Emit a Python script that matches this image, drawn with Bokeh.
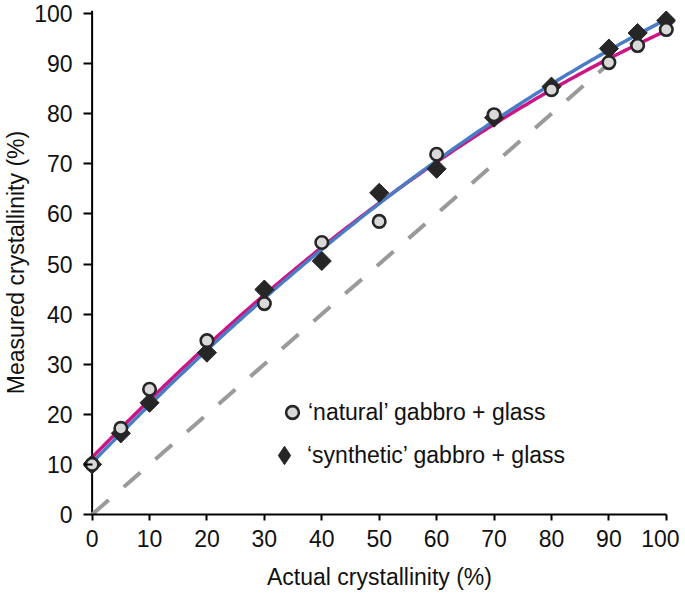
import numpy as np
from bokeh.plotting import figure
from bokeh.models import Range1d, SingleIntervalTicker, Legend, LegendItem, Span
from bokeh.embed import file_html
from bokeh.resources import INLINE

# ---- data ----
actual = [0, 5, 10, 20, 30, 40, 50, 60, 70, 80, 90, 95, 100]
natural = [10.0, 17.2, 25.0, 34.7, 42.1, 54.3, 58.5, 71.9, 79.8, 84.8, 90.2, 93.6, 96.8]
synthetic = [10.0, 16.2, 22.3, 32.3, 44.9, 50.6, 64.2, 69.0, 79.2, 85.4, 93.0, 96.1, 98.6]
one_to_one = [0, 100]
tick_step = 10

# trend lines (2nd-order polynomial fits of each series)
xa = np.array(actual, dtype=float)
xf = np.linspace(0, 100, 201)
fit_nat = np.polyval(np.polyfit(xa, natural, 2), xf)
fit_syn = np.polyval(np.polyfit(xa, synthetic, 2), xf)

FONT = "Liberation Sans"
TXT = "#111111"

p = figure(
    output_backend="svg", toolbar_location=None,
    x_range=Range1d(-1.5, 101.6), y_range=Range1d(0, 100.6),
    frame_width=592, frame_height=504,
    min_border_left=82, min_border_right=4, min_border_top=10, min_border_bottom=81,
)
p.outline_line_color = None
p.xgrid.visible = False
p.ygrid.visible = False
p.background_fill_color = "white"
p.border_fill_color = "white"

# vertical axis line at x = 0 (the frame starts slightly left so markers are not cut)
p.add_layout(Span(location=0, dimension="height", line_color="black",
                  line_width=2, level="underlay"))

# 1:1 reference line
p.line(one_to_one, one_to_one, line_color="#9a9a9a", line_width=4, line_dash="22 20")

# fits
p.line(xf, fit_nat, line_color="#cc1484", line_width=3.5)
p.line(xf, fit_syn, line_color="#4a7cc6", line_width=3.5)

# points (diamond glyph underneath is the legend swatch; it is hidden by the rotated squares)
r_syn_leg = p.scatter(actual, synthetic, marker="diamond", size=18,
                      fill_color="#262626", line_color="#262626", line_width=1)
r_syn = p.scatter(actual, synthetic, marker="square", angle=np.pi / 4, size=13.5,
                  fill_color="#262626", line_color="#262626", line_width=1)
r_nat = p.scatter(actual, natural, marker="circle", size=12.5,
                  fill_color="#d9d9d9", line_color="#262626", line_width=2.6)


def make_legend(label, renderer, loc, glyph):
    lg = Legend(items=[LegendItem(label=label, renderers=[renderer])], location=loc)
    lg.padding = 0
    lg.margin = 0
    lg.spacing = 0
    lg.glyph_width = glyph
    lg.glyph_height = glyph
    lg.label_height = glyph
    lg.label_standoff = 0
    lg.border_line_color = None
    lg.background_fill_alpha = 0
    lg.label_text_font = FONT
    lg.label_text_font_size = "23px"
    lg.label_text_color = TXT
    return lg


p.add_layout(make_legend("\u2018natural\u2019 gabbro + glass", r_nat, (193, 86), 32), "center")
p.add_layout(make_legend("\u2018synthetic\u2019 gabbro + glass", r_syn_leg, (178, 36), 46), "center")

for ax in (p.xaxis[0], p.yaxis[0]):
    ax.ticker = SingleIntervalTicker(interval=tick_step)
    ax.bounds = (0, 100)
    ax.minor_tick_line_color = None
    ax.major_tick_line_width = 2
    ax.major_tick_line_color = "black"
    ax.axis_line_width = 2
    ax.axis_line_color = "black"
    ax.major_label_text_font = FONT
    ax.major_label_text_font_size = "23px"
    ax.major_label_text_color = TXT
    ax.axis_label_text_font = FONT
    ax.axis_label_text_font_size = "23px"
    ax.axis_label_text_font_style = "normal"
    ax.axis_label_text_color = TXT

p.xaxis.axis_label = "Actual crystallinity (%)"
p.xaxis.major_tick_in = 0
p.xaxis.major_tick_out = 6
p.xaxis.major_label_standoff = 9
p.xaxis.axis_label_standoff = 14

p.yaxis.axis_label = "Measured crystallinity (%)"
p.yaxis.axis_line_color = None
p.yaxis.major_tick_in = 9
p.yaxis.major_tick_out = 0
p.yaxis.major_label_standoff = 7
p.yaxis.axis_label_standoff = 2

open("out.html", "w").write(file_html(p, INLINE))
